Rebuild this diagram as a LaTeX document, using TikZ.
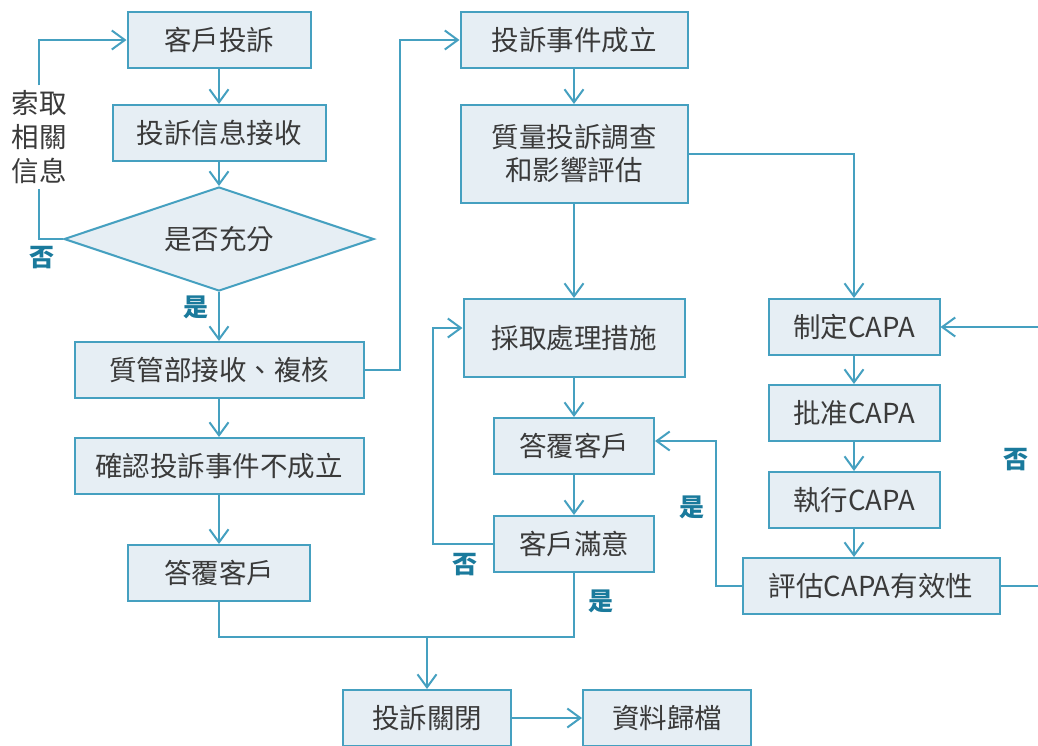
\documentclass[tikz,border=0pt]{standalone}
\usepackage{fontspec}
\newfontfamily\cjkfont{Noto Sans CJK TC}
\usetikzlibrary{arrows.meta,shapes.geometric}

\definecolor{lineblue}{HTML}{45A0C0}
\definecolor{boxfill}{HTML}{E6EEF4}
\definecolor{textgray}{HTML}{3A3A3A}
\definecolor{labelblue}{HTML}{1A7A9C}

\tikzset{every picture/.style={line width=2pt}}
\tikzset{
  flowbox/.style={draw=lineblue, fill=boxfill, text=textgray, inner sep=0pt, minimum height=56pt, align=center, font=\cjkfont\fontsize{27.5}{33}\selectfont},
  choice/.style={diamond, aspect=3, draw=lineblue, fill=boxfill, text=textgray, inner sep=0pt, minimum width=310pt, minimum height=104pt, font=\cjkfont\fontsize{27.5}{33}\selectfont},
  yesno/.style={text=labelblue, inner sep=0pt, font=\cjkfont\bfseries\fontsize{25}{30}\selectfont},
  flow/.style={draw=lineblue, -{Straight Barb[length=13pt,width=19pt]}},
  link/.style={draw=lineblue}
}

\begin{document}
\begin{tikzpicture}[x=1pt,y=1pt,yscale=-1,xscale=1]
        \useasboundingbox (0,0) rectangle (1038,745);
        \clip (0,0) rectangle (1038,745);

        % Left column
        \node [flowbox, minimum width=183pt] (complaint) at (219,40) {客戶投訴};
        \node [flowbox, minimum width=213pt] (receive) at (219,133) {投訴信息接收};
        \node [choice] (enough) at (219,239) {是否充分};
        \node [flowbox, minimum width=289pt] (review) at (219,370) {質管部接收、複核};
        \node [flowbox, minimum width=289pt] (invalid) at (219,466) {確認投訴事件不成立};
        \node [flowbox, minimum width=182pt] (replyL) at (219,573) {答覆客戶};
        % side note on the loop
        \node [fill=white, text=textgray, inner sep=4pt, align=center, font=\cjkfont\fontsize{27.5}{34}\selectfont] (askinfo) at (39,137) {索取\\相關\\信息};

        % Middle column
        \node [flowbox, minimum width=227pt] (valid) at (574,40) {投訴事件成立};
        \node [flowbox, minimum width=227pt, minimum height=98pt] (investigate) at (574,154) {質量投訴調查\\和影響評估};
        \node [flowbox, minimum width=221pt, minimum height=78pt] (action) at (574,338) {採取處理措施};
        \node [flowbox, minimum width=160pt] (replyM) at (574,446) {答覆客戶};
        \node [flowbox, minimum width=160pt] (satisfied) at (574,544) {客戶滿意};

        % Right column
        \node [flowbox, minimum width=171pt] (capaplan) at (854,327) {制定CAPA};
        \node [flowbox, minimum width=171pt] (capaok) at (854,413) {批准CAPA};
        \node [flowbox, minimum width=171pt] (capado) at (854,500) {執行CAPA};
        \node [flowbox, minimum width=257pt] (capacheck) at (871,586) {評估CAPA有效性};

        % Bottom row
        \node [flowbox, minimum width=168pt] (close) at (427,718) {投訴關閉};
        \node [flowbox, minimum width=168pt] (archive) at (667,718) {資料歸檔};

        \coordinate (merge) at (427,637);
        \coordinate (outside) at (1060,0);

        % Connectors, left
        \draw [flow] (complaint) -- (receive);
        \draw [flow] (receive) -- (enough);
        \draw [flow] (enough) -- (review);
        \draw [flow] (review) -- (invalid);
        \draw [flow] (invalid) -- (replyL);
        \draw [link] (enough.west) -| (askinfo.south);
        \draw [flow] (askinfo.north) |- (complaint.west);
        \draw [flow] (review.east) -- ++(35,0) |- (valid.west);

        % Connectors, middle
        \draw [flow] (valid) -- (investigate);
        \draw [flow] (investigate) -- (action);
        \draw [flow] (action) -- (replyM);
        \draw [flow] (replyM) -- (satisfied);
        \draw [flow] (satisfied.west) -- ++(-60,0) |- ([yshift=-10pt]action.west);
        \draw [flow] (investigate.east) -| (capaplan.north);

        % Connectors, right
        \draw [flow] (capaplan) -- (capaok);
        \draw [flow] (capaok) -- (capado);
        \draw [flow] (capado.south) -- (capado.south |- capacheck.north);
        \draw [flow] (capacheck.west) -- ++(-26,0) |- ([yshift=-5pt]replyM.east);
        \draw [flow] (capacheck.east) -- (capacheck.east -| outside) |- (capaplan.east);

        % Connectors, bottom
        \draw [link] (replyL.south) -- (replyL.south |- merge) -- (satisfied.south |- merge) -- (satisfied.south);
        \draw [flow] (merge) -- (close);
        \draw [flow] (close) -- (archive);

        % Text Node
        \node [yesno] (noA) at (42,258) {否};
        \node [yesno] (yesA) at (196,307) {是};
        \node [yesno] (noB) at (465,565) {否};
        \node [yesno] (yesB) at (601,601) {是};
        \node [yesno] (yesC) at (692,507) {是};
        \node [yesno] (noC) at (1016,460) {否};

\end{tikzpicture}
\end{document}
